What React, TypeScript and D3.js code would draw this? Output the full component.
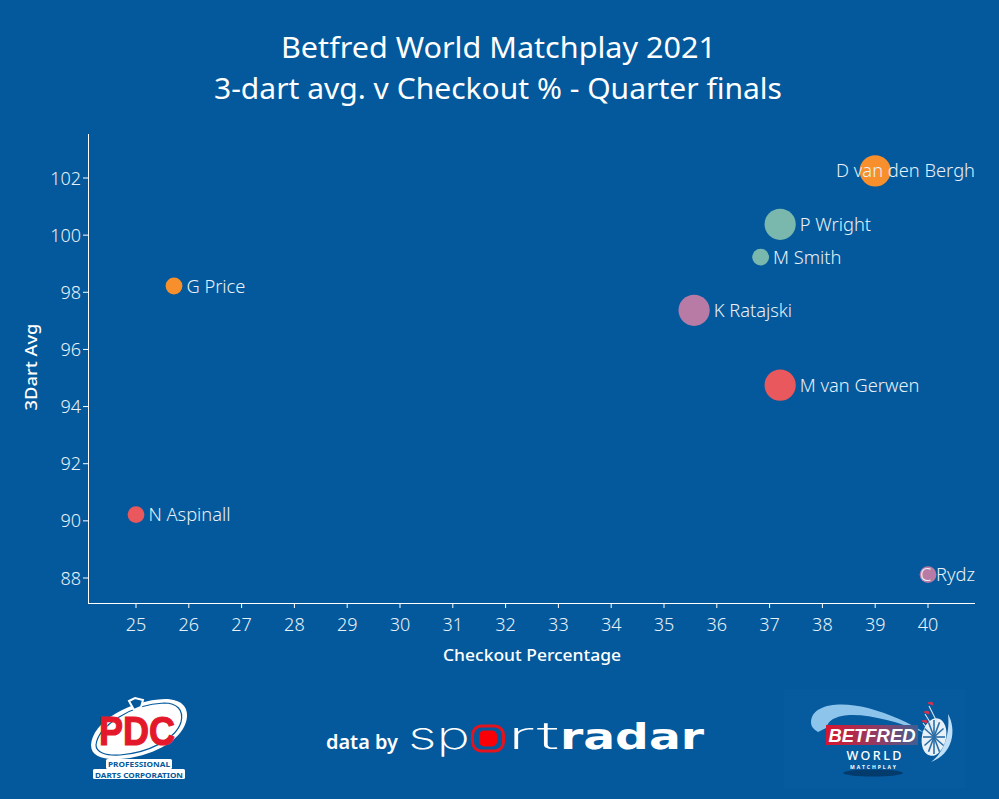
import React from "react";
import * as d3 from "d3";

const players = ["D van den Bergh", "P Wright", "M Smith", "K Ratajski", "M van Gerwen", "G Price", "N Aspinall", "C Rydz"];
const checkout = [39.0, 37.2, 36.83, 35.57, 37.2, 25.72, 25.0, 40.0];
const average = [102.25, 100.38, 99.23, 97.37, 94.75, 98.22, 90.22, 88.12];
const pairing = ["a", "b", "b", "c", "d", "a", "d", "c"];
const matchWon = [1, 1, 0, 1, 1, 0, 0, 0];
const xTicks = d3.range(25, 41);
const yTicks = [88, 90, 92, 94, 96, 98, 100, 102];
const pairColors: Record<string, string> = { a: "#f7902c", b: "#7ab8ae", c: "#b87ba6", d: "#e8585c" };

const BG = "#03599c";
const FONT = "'Noto Sans', sans-serif";
const INK = "#e8f1f9";

const x = d3.scaleLinear().domain([25, 40]).range([136, 928]);
const y = d3.scaleLinear().domain([88, 102]).range([578, 178]);
const r = d3.scaleOrdinal<number, number>().domain([0, 1]).range([8.4, 15.6]);

function labelAttrs(i: number) {
  const cx = x(checkout[i]);
  if (players[i] === "D van den Bergh") return { x: 975, anchor: "end" };
  if (players[i] === "C Rydz") return { x: 975, anchor: "end" };
  return { x: cx + r(matchWon[i]) + 4, anchor: "start" };
}

function PdcLogo() {
  return (
    <g>
      <path d="M91 745 C92 722 130 700 165 699 C182 699 190 708 186 722 C180 742 150 757 120 759 C102 760 91 756 91 745 Z" fill="#fff" />
      <path d="M96 745 C98 726 132 704 164 703 C177 703 184 710 181 722 C176 739 148 753 120 755 C105 756 96 752 96 745 Z" fill="#fff" stroke={BG} strokeWidth="1.2" />
      <path d="M129 701 L135 698 L143 700 L141 707 L134 710 Z" fill={BG} stroke="#fff" strokeWidth="2" />
      <text x="137" y="745" textAnchor="middle" fontFamily="'Liberation Sans', sans-serif" fontWeight="700" fontSize="41" fill="#e3192b" textLength="76" lengthAdjust="spacingAndGlyphs" stroke="#e3192b" strokeWidth="1.2">PDC</text>
      <rect x="106" y="759" width="66" height="10" rx="1.5" fill="#fff" />
      <rect x="93" y="769" width="92" height="10" rx="1.5" fill="#fff" />
      <text x="139" y="767" textAnchor="middle" fontFamily={FONT} fontWeight="700" fontSize="7.4" fill={BG} textLength="62" lengthAdjust="spacingAndGlyphs">PROFESSIONAL</text>
      <text x="139" y="777.5" textAnchor="middle" fontFamily={FONT} fontWeight="700" fontSize="7.4" fill={BG} textLength="88" lengthAdjust="spacingAndGlyphs">DARTS CORPORATION</text>
    </g>
  );
}

function SportradarLogo() {
  return (
    <g>
      <text x="408" y="749" fontFamily="'Inter', sans-serif" fontWeight="200" fontSize="37" fill="#fff" textLength="62" lengthAdjust="spacingAndGlyphs">sp</text>
      <rect x="472.5" y="726" width="31" height="25" rx="9" fill="none" stroke="#e3141e" strokeWidth="3" />
      <rect x="479" y="730.5" width="18" height="16" rx="5" fill="#fb0007" />
      <text x="507" y="749" fontFamily="'Inter', sans-serif" fontWeight="200" fontSize="37" fill="#fff" textLength="52" lengthAdjust="spacingAndGlyphs">rt</text>
      <text x="560" y="749" fontFamily="'DejaVu Sans', sans-serif" fontWeight="700" fontSize="36" fill="#fff" textLength="144" lengthAdjust="spacingAndGlyphs">radar</text>
    </g>
  );
}

function BetfredLogo() {
  const spokes = d3.range(0, 360, 30);
  return (
    <g>
      <rect x="784" y="689" width="181" height="99" fill="#065a9e" />
      <path d="M811 722 C812 704 840 701 868 708 C890 714 910 723 925 733 C895 720 860 712 842 716 C832 718 828 722 826 728 L818 732 C813 729 811 726 811 722 Z" fill="#8cc4ec" />
      <path d="M948 714 C957 730 953 754 931 762 C945 752 950 732 948 714 Z" fill="#bfe0f6" />
      <ellipse cx="934" cy="737" rx="12" ry="19" transform="rotate(12 934 737)" fill="#e8f1f8" />
      {spokes.map((a) => (
        <line key={a} x1="934" y1="737" x2={934 + 11 * Math.cos((a * Math.PI) / 180)} y2={737 + 17 * Math.sin((a * Math.PI) / 180)} stroke="#2b6ea6" strokeWidth="1.6" />
      ))}
      <path d="M929 706 L937 722 M925 714 L933 727 M923 723 L930 732" stroke="#d8e6f2" strokeWidth="1.1" />
      <path d="M928 703 l4 -1 l1 3 Z M924 712 l4 -1 l1 3 Z M922 721 l4 -1 l1 3 Z" fill="#d4324d" stroke="#d4324d" />
      <defs>
        <linearGradient id="betfredBand" x1="0" x2="1" y1="0" y2="0">
          <stop offset="0" stopColor="#d8152f" />
          <stop offset="0.6" stopColor="#8a3f68" />
          <stop offset="1" stopColor="#3f5f94" />
        </linearGradient>
      </defs>
      <rect x="826" y="725" width="92" height="20" fill="url(#betfredBand)" />
      <text x="872" y="742" textAnchor="middle" fontFamily="'Liberation Sans', sans-serif" fontStyle="italic" fontWeight="700" fontSize="19" fill="#fff" textLength="87" lengthAdjust="spacingAndGlyphs">BETFRED</text>
      <text x="874" y="760" textAnchor="middle" fontFamily={FONT} fontSize="12.5" fontWeight="500" fill="#fff" textLength="55" lengthAdjust="spacing">WORLD</text>
      <text x="874" y="768.5" textAnchor="middle" fontFamily={FONT} fontSize="5" fontWeight="700" fill="#fff" letterSpacing="2">MATCHPLAY</text>
      <ellipse cx="873" cy="773" rx="30" ry="3.5" fill="#03315c" opacity="0.75" />
    </g>
  );
}

export default function App() {
  return (
    <svg width={999} height={799} style={{ position: "absolute", left: 0, top: 0, display: "block" }}>
      <rect width={999} height={799} fill={BG} />
      <text x={498.5} y={58} textAnchor="middle" fontFamily={FONT} fontSize={29.5} fill="#fff" textLength={435} lengthAdjust="spacingAndGlyphs">Betfred World Matchplay 2021</text>
      <text x={498} y={99} textAnchor="middle" fontFamily={FONT} fontSize={29.5} fill="#fff" textLength={568} lengthAdjust="spacingAndGlyphs">3-dart avg. v Checkout % - Quarter finals</text>

      <line x1={88.5} x2={88.5} y1={134} y2={603.5} stroke="#fff" strokeWidth={1} />
      <line x1={88} x2={975} y1={603.5} y2={603.5} stroke="#fff" strokeWidth={1} />
      {xTicks.map((t) => (
        <g key={t}>
          <line x1={x(t)} x2={x(t)} y1={603.5} y2={608} stroke="#fff" />
          <text x={x(t)} y={631} textAnchor="middle" fontFamily={FONT} fontWeight={300} fontSize={18} fill={INK}>{t}</text>
        </g>
      ))}
      {yTicks.map((t) => (
        <g key={t}>
          <line x1={83} x2={88} y1={y(t)} y2={y(t)} stroke="#fff" />
          <text x={81} y={y(t) + 6.5} textAnchor="end" fontFamily={FONT} fontWeight={300} fontSize={18} fill={INK}>{t}</text>
        </g>
      ))}
      <text x={532} y={661} textAnchor="middle" fontFamily={FONT} fontWeight={500} fontSize={16.5} fill="#fff" textLength={178} lengthAdjust="spacingAndGlyphs">Checkout Percentage</text>
      <text transform="translate(37 367) rotate(-90)" textAnchor="middle" fontFamily={FONT} fontWeight={500} fontSize={16.5} fill="#fff" textLength={87} lengthAdjust="spacingAndGlyphs">3Dart Avg</text>

      {players.map((p, i) => (
        <circle key={p} cx={x(checkout[i])} cy={y(average[i])} r={r(matchWon[i])} fill={pairColors[pairing[i]]} />
      ))}
      {players.map((p, i) => {
        const l = labelAttrs(i);
        return (
          <text key={p} x={l.x} y={y(average[i]) + 6.5} textAnchor={l.anchor as "start" | "end"} fontFamily={FONT} fontWeight={300} fontSize={18.3} fill={INK}>{p}</text>
        );
      })}

      <PdcLogo />
      <text x={326} y={749} fontFamily={FONT} fontWeight={600} fontSize={19} fill="#fff" textLength={72} lengthAdjust="spacingAndGlyphs">data by</text>
      <SportradarLogo />
      <BetfredLogo />
    </svg>
  );
}
